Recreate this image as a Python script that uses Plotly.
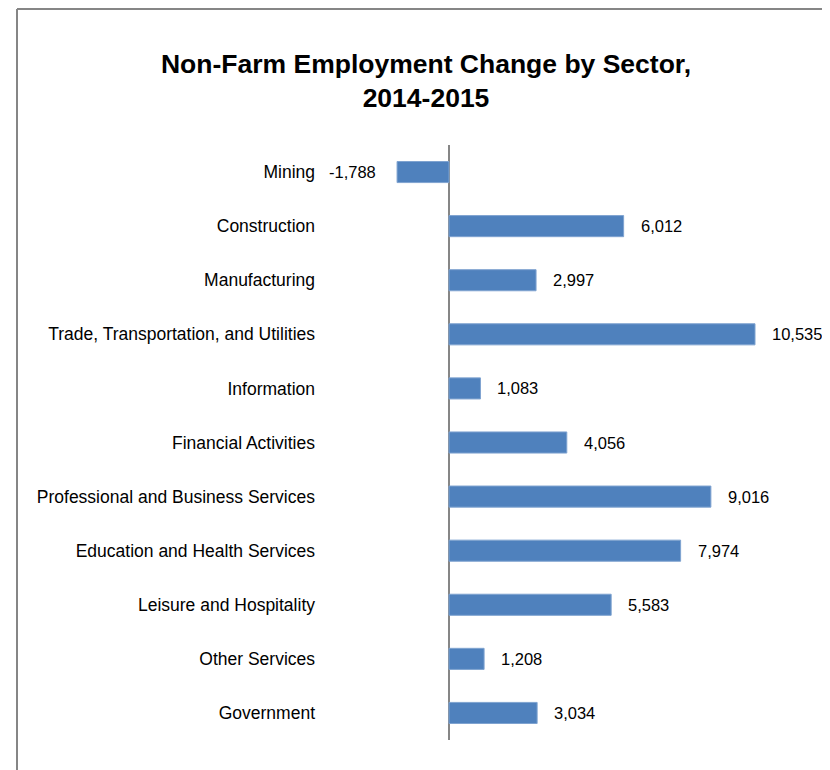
import plotly.graph_objects as go

sectors = [
    "Mining",
    "Construction",
    "Manufacturing",
    "Trade, Transportation, and Utilities",
    "Information",
    "Financial Activities",
    "Professional and Business Services",
    "Education and Health Services",
    "Leisure and Hospitality",
    "Other Services",
    "Government",
]
changes = [-1788, 6012, 2997, 10535, 1083, 4056, 9016, 7974, 5583, 1208, 3034]

FONT = "Liberation Sans, Arial, sans-serif"
BAR = "#4F81BD"
GRAY = "#868686"

W, H = 822, 762          # page has an 8px body margin
L, R, T, B = 308, 0, 137, 30
PW, PH = W - L - R, H - T - B

fig = go.Figure()
fig.add_trace(go.Bar(
    x=changes,
    y=sectors,
    orientation="h",
    marker=dict(color=BAR, line=dict(color="#7FA3D0", width=1)),
    hoverinfo="x+y",
))

annotations = []
for s, v in zip(sectors, changes):
    annotations.append(dict(
        x=v, y=s, xref="x", yref="y",
        text=f"{v:,}",
        showarrow=False,
        xanchor="left" if v >= 0 else "right",
        xshift=15 if v >= 0 else -19,
        font=dict(family=FONT, size=16.5, color="#000000"),
    ))

border_x = (9 - L) / PW
border_y = (H - B - 1) / PH

fig.update_layout(
    width=W, height=H,
    margin=dict(l=L, r=R, t=T, b=B),
    paper_bgcolor="white",
    plot_bgcolor="white",
    showlegend=False,
    bargap=0.61,
    title=dict(
        text="<b>Non-Farm Employment Change by Sector,<br>2014-2015</b>",
        x=418 / W, xanchor="center", xref="container",
        y=1 - 64.5 / H, yanchor="middle", yref="container",
        font=dict(family=FONT, size=26.5, color="#000000"),
    ),
    xaxis=dict(
        range=[-4579, 13117],
        showticklabels=False,
        showgrid=False,
        zeroline=True,
        zerolinecolor=GRAY,
        zerolinewidth=2,
        showline=False,
        ticks="",
        fixedrange=True,
    ),
    yaxis=dict(
        categoryorder="array",
        categoryarray=sectors,
        autorange="reversed",
        showgrid=False,
        showline=False,
        ticks="",
        tickfont=dict(family=FONT, size=17.5, color="#000000"),
        fixedrange=True,
    ),
    annotations=annotations,
    shapes=[
        dict(type="line", xref="paper", yref="paper",
             x0=border_x, x1=1.05, y0=border_y, y1=border_y,
             line=dict(color=GRAY, width=2)),
        dict(type="line", xref="paper", yref="paper",
             x0=border_x, x1=border_x, y0=border_y, y1=-0.1,
             line=dict(color=GRAY, width=2)),
    ],
)

fig.write_html("out.html")
